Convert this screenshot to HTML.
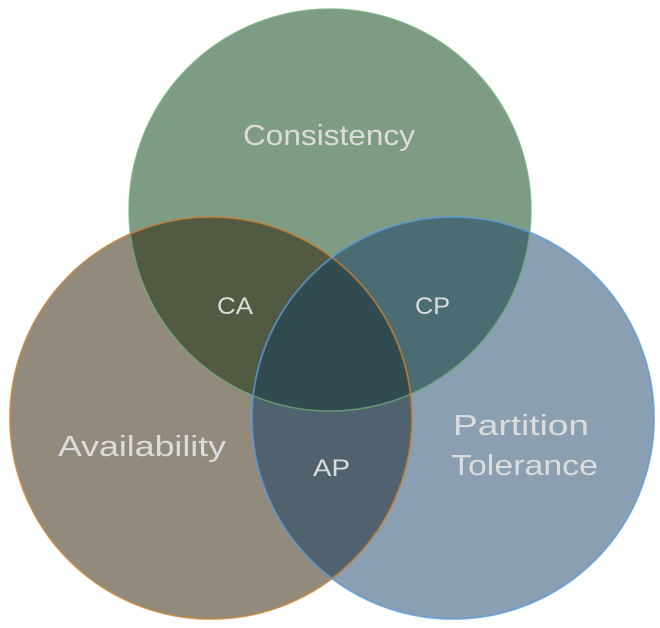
<!DOCTYPE html>
<html>
<head>
<meta charset="utf-8">
<style>
  html, body { margin: 0; padding: 0; background: #ffffff; }
  body { width: 660px; height: 628px; overflow: hidden; }
  svg { display: block; }
  text { font-family: "Liberation Sans", "DejaVu Sans", sans-serif; fill: #dcdcdc; }
</style>
</head>
<body>
<svg width="660" height="628" viewBox="0 0 660 628" xmlns="http://www.w3.org/2000/svg">
  <defs>
    <clipPath id="clipC"><circle cx="330" cy="210" r="201"/></clipPath>
    <clipPath id="clipA"><circle cx="211" cy="418" r="201"/></clipPath>
    <clipPath id="clipP"><circle cx="453" cy="418" r="201"/></clipPath>
  </defs>

  <!-- base fills -->
  <circle cx="330" cy="210" r="201" fill="#7e9c84"/>
  <circle cx="211" cy="418" r="201" fill="#928b7d"/>
  <circle cx="453" cy="418" r="201" fill="#8a9fb1"/>

  <!-- pairwise overlaps -->
  <g clip-path="url(#clipC)">
    <circle cx="211" cy="418" r="201" fill="#525b41"/>
    <circle cx="453" cy="418" r="201" fill="#4a6c72"/>
  </g>
  <g clip-path="url(#clipA)">
    <circle cx="453" cy="418" r="201" fill="#50626d"/>
  </g>
  <!-- triple overlap -->
  <g clip-path="url(#clipC)">
    <g clip-path="url(#clipA)">
      <circle cx="453" cy="418" r="201" fill="#324b50"/>
    </g>
  </g>

  <!-- outlines -->
  <circle cx="330" cy="210" r="201" fill="none" stroke="#6fae7b" stroke-width="1.5" stroke-opacity="0.75"/>
  <circle cx="211" cy="418" r="201" fill="none" stroke="#c3823a" stroke-width="1.8" stroke-opacity="0.8"/>
  <circle cx="453" cy="418" r="201" fill="none" stroke="#5b9ad8" stroke-width="1.8" stroke-opacity="0.8"/>

  <!-- labels -->
  <text x="243" y="145" font-size="29" textLength="172" lengthAdjust="spacingAndGlyphs">Consistency</text>
  <text x="217" y="314" font-size="24" textLength="36" lengthAdjust="spacingAndGlyphs">CA</text>
  <text x="415" y="314" font-size="24" textLength="35" lengthAdjust="spacingAndGlyphs">CP</text>
  <text x="313" y="476" font-size="24" textLength="37" lengthAdjust="spacingAndGlyphs">AP</text>
  <text x="58" y="456" font-size="29" textLength="168" lengthAdjust="spacingAndGlyphs">Availability</text>
  <text x="453" y="435" font-size="29" textLength="136" lengthAdjust="spacingAndGlyphs">Partition</text>
  <text x="451" y="475" font-size="29" textLength="147" lengthAdjust="spacingAndGlyphs">Tolerance</text>
</svg>
</body>
</html>
